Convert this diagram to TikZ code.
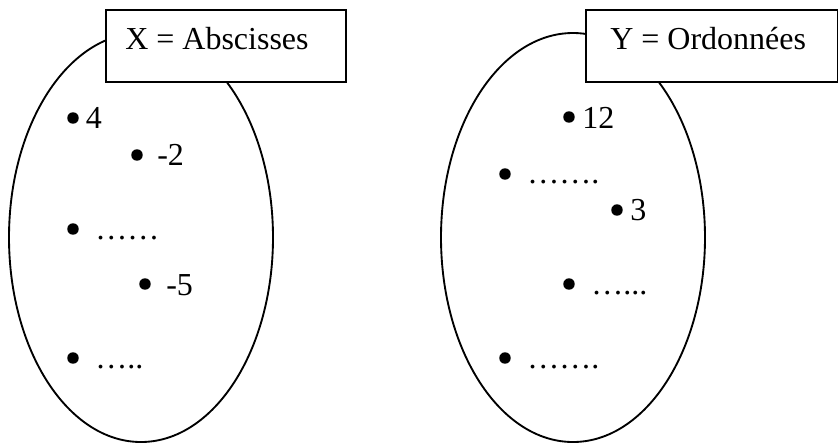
\documentclass[tikz,border=0pt]{standalone}
\usepackage{fontspec}
\setmainfont{Liberation Serif}
\begin{document}
\begin{tikzpicture}[x=0.75pt,y=-0.75pt,
  lbl/.style={inner sep=0pt,anchor=base west,font=\fontsize{24}{28}\selectfont},
  pt/.style={circle,fill=black,inner sep=0pt,minimum size=8.6pt},
  setline/.style={line width=1.4pt},
  titlebox/.style={draw,setline,fill=white,inner sep=0pt,anchor=north west}]
\useasboundingbox (0,0) rectangle (838,444);
% sets
\draw[setline] (141,237.5) ellipse [x radius=132, y radius=204.5];
\draw[setline] (573,237.5) ellipse [x radius=132, y radius=204.5];
% title boxes
\node[titlebox,minimum width=180pt,minimum height=54pt] (bx) at (105,9) {};
\node[lbl] (tx) at (125,49) {X = Abscisses};
\node[titlebox,minimum width=189pt,minimum height=54pt] (by) at (585,9) {};
\node[lbl] (ty) at (610,49) {Y = Ordonnées};
% left elements
\node[pt] (a1) at (73,118) {};
\node[lbl] (la1) at (85.5,128.3) {4};
\node[pt] (a2) at (137,155) {};
\node[lbl] (la2) at (157,165) {-2};
\node[pt] (a3) at (73,229) {};
\node[lbl] (la3) at (95,239) {……};
\node[pt] (a4) at (145,284) {};
\node[lbl] (la4) at (166,295) {-5};
\node[pt] (a5) at (73,358) {};
\node[lbl] (la5) at (95,368) {…..};
% right elements
\node[pt] (b1) at (569,117) {};
\node[lbl] (lb1) at (582,128) {12};
\node[pt] (b2) at (505,174) {};
\node[lbl] (lb2) at (527,183.5) {…….};
\node[pt] (b3) at (617,210) {};
\node[lbl] (lb3) at (630,220.7) {3};
\node[pt] (b4) at (569,284) {};
\node[lbl] (lb4) at (591,294.7) {…...};
\node[pt] (b5) at (505,358) {};
\node[lbl] (lb5) at (527,368) {…….};
\end{tikzpicture}
\end{document}
